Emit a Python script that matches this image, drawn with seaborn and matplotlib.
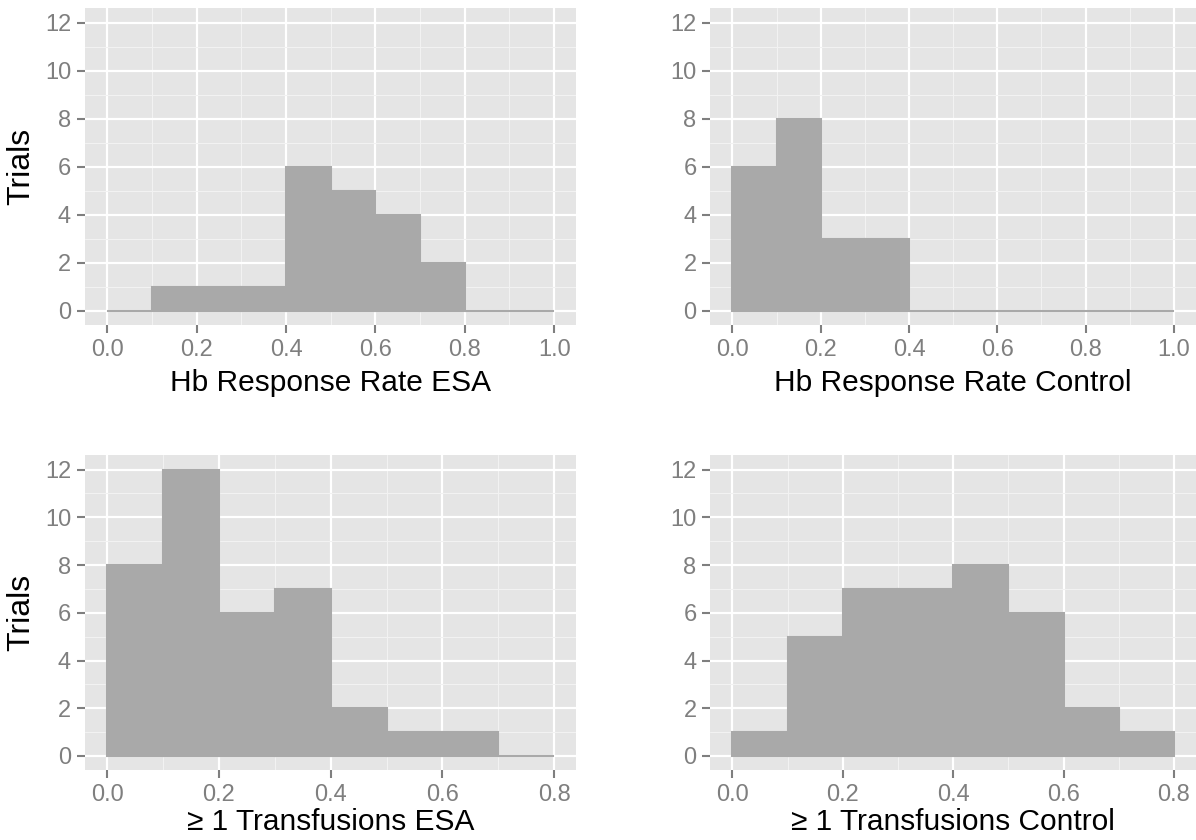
import numpy as np
import pandas as pd
import matplotlib
matplotlib.use("Agg")
import matplotlib.pyplot as plt
import seaborn as sns

# bin counts (bin width 0.1)
hb_edges = [0.0, 0.1, 0.2, 0.3, 0.4, 0.5, 0.6, 0.7, 0.8, 0.9, 1.0]
hb_esa = [0, 1, 1, 1, 6, 5, 4, 2, 0, 0]
hb_control = [6, 8, 3, 3, 0, 0, 0, 0, 0, 0]

tr_edges = [0.0, 0.1, 0.2, 0.3, 0.4, 0.5, 0.6, 0.7, 0.8]
tr_esa = [8, 12, 6, 7, 2, 1, 1, 0]
tr_control = [1, 5, 7, 7, 8, 6, 2, 1]

panels = [
    ("Hb Response Rate ESA", hb_edges, hb_esa, [0.0, 0.2, 0.4, 0.6, 0.8, 1.0]),
    ("Hb Response Rate Control", hb_edges, hb_control, [0.0, 0.2, 0.4, 0.6, 0.8, 1.0]),
    ("\u2265 1 Transfusions ESA", tr_edges, tr_esa, [0.0, 0.2, 0.4, 0.6, 0.8]),
    ("\u2265 1 Transfusions Control", tr_edges, tr_control, [0.0, 0.2, 0.4, 0.6, 0.8]),
]

sns.set_theme(style="darkgrid")
plt.rcParams['font.family'] = ['Liberation Sans', 'DejaVu Sans']

fig = plt.figure(figsize=(11.96, 8.4), dpi=100)
boxes = [
    [0.071, 0.613, 0.411, 0.377],
    [0.594, 0.613, 0.406, 0.377],
    [0.071, 0.083, 0.411, 0.375],
    [0.594, 0.083, 0.406, 0.375],
]

for i, (title, edges, counts, xticks) in enumerate(panels):
    ax = fig.add_axes(boxes[i])
    e = np.array(edges)
    df = pd.DataFrame({"x": (e[:-1] + e[1:]) / 2, "n": counts})
    sns.histplot(data=df, x="x", weights="n", bins=list(edges), ax=ax,
                 color="#A9A9A9", edgecolor="#A9A9A9", linewidth=1.5,
                 alpha=1.0)
    lo, hi = edges[0], edges[-1]
    pad = (hi - lo) * 0.05
    ax.set_xlim(lo - pad, hi + pad)
    ax.set_ylim(-0.6, 12.6)
    ax.set_facecolor("#E5E5E5")
    ax.set_xticks(xticks)
    ax.set_xticklabels([f"{t:.1f}" for t in xticks])
    ax.set_xticks([t + 0.1 for t in xticks[:-1]], minor=True)
    ax.set_yticks([0, 2, 4, 6, 8, 10, 12])
    ax.set_yticks([1, 3, 5, 7, 9, 11], minor=True)
    ax.grid(which="major", color="white", linewidth=1.6)
    ax.grid(which="minor", color="#F2F2F2", linewidth=0.8)
    ax.set_axisbelow(True)
    for s in ax.spines.values():
        s.set_visible(False)
    ax.tick_params(which="major", length=6, width=1.5, color="#7F7F7F",
                   labelcolor="#7F7F7F", labelsize=17, pad=4,
                   bottom=True, left=True)
    ax.tick_params(which="minor", length=0)
    ax.set_xlabel(title, fontsize=21.5, color="black",
                  labelpad=6 if i < 2 else 1)
    if i % 2 == 0:
        ax.set_ylabel("Trials", fontsize=23, color="black", labelpad=6)
    else:
        ax.set_ylabel("")

fig.savefig("out.png", dpi=100)
